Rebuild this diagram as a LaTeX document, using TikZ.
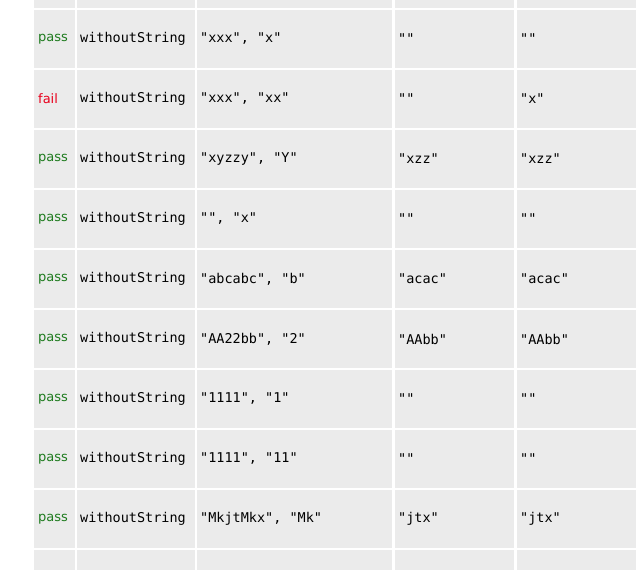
\documentclass[tikz,border=0pt]{standalone}
\usepackage{fontspec}
\setmainfont{DejaVu Sans}
\setmonofont{DejaVu Sans Mono}
\definecolor{cellbg}{HTML}{EBEBEB}
\definecolor{passc}{HTML}{1E7B1E}
\definecolor{failc}{HTML}{E8001C}
\begin{document}
\begin{tikzpicture}[x=1pt,y=-1pt,
  cell/.style={fill=cellbg,draw=none},
  code/.style={anchor=west,inner sep=0,font=\ttfamily\fontsize{13.5}{14}\selectfont},
  res/.style={anchor=west,inner sep=0,font=\fontsize{13}{14}\selectfont}]
\useasboundingbox (0,0) rectangle (641,570);
\def\cols{34/75,77/195,197/392,395/514,517/636}
% top partial row
\foreach \a/\b in \cols {\fill[cellbg] (\a,0) rectangle (\b,8);}
\foreach \i in {0,...,8} {
  \foreach \a/\b in \cols {\fill[cellbg] (\a,10+60*\i) rectangle (\b,68+60*\i);}
}
\foreach \a/\b in \cols {\fill[cellbg] (\a,550) rectangle (\b,570);}
\foreach [count=\i from 0] \st/\arg/\exp/\act in {
  pass/{"xxx", "x"}/{""}/{""},
  fail/{"xxx", "xx"}/{""}/{"x"},
  pass/{"xyzzy", "Y"}/{"xzz"}/{"xzz"},
  pass/{"", "x"}/{""}/{""},
  pass/{"abcabc", "b"}/{"acac"}/{"acac"},
  pass/{"AA22bb", "2"}/{"AAbb"}/{"AAbb"},
  pass/{"1111", "1"}/{""}/{""},
  pass/{"1111", "11"}/{""}/{""},
  pass/{"MkjtMkx", "Mk"}/{"jtx"}/{"jtx"}} {
  \pgfmathsetmacro{\yy}{39+60*\i}
  \ifnum\pdfstrcmp{\st}{pass}=0
    \node[res,text=passc] (s\i) at (38,\yy) {pass};
  \else
    \node[res,text=failc] (s\i) at (38,\yy) {fail};
  \fi
  \node[code] (m\i) at (80,\yy) {withoutString};
  \node[code] (a\i) at (200,\yy) {\detokenize\expandafter{\arg}};
  \node[code] (e\i) at (398,\yy) {\detokenize\expandafter{\exp}};
  \node[code] (r\i) at (520,\yy) {\detokenize\expandafter{\act}};
}
\end{tikzpicture}
\end{document}
